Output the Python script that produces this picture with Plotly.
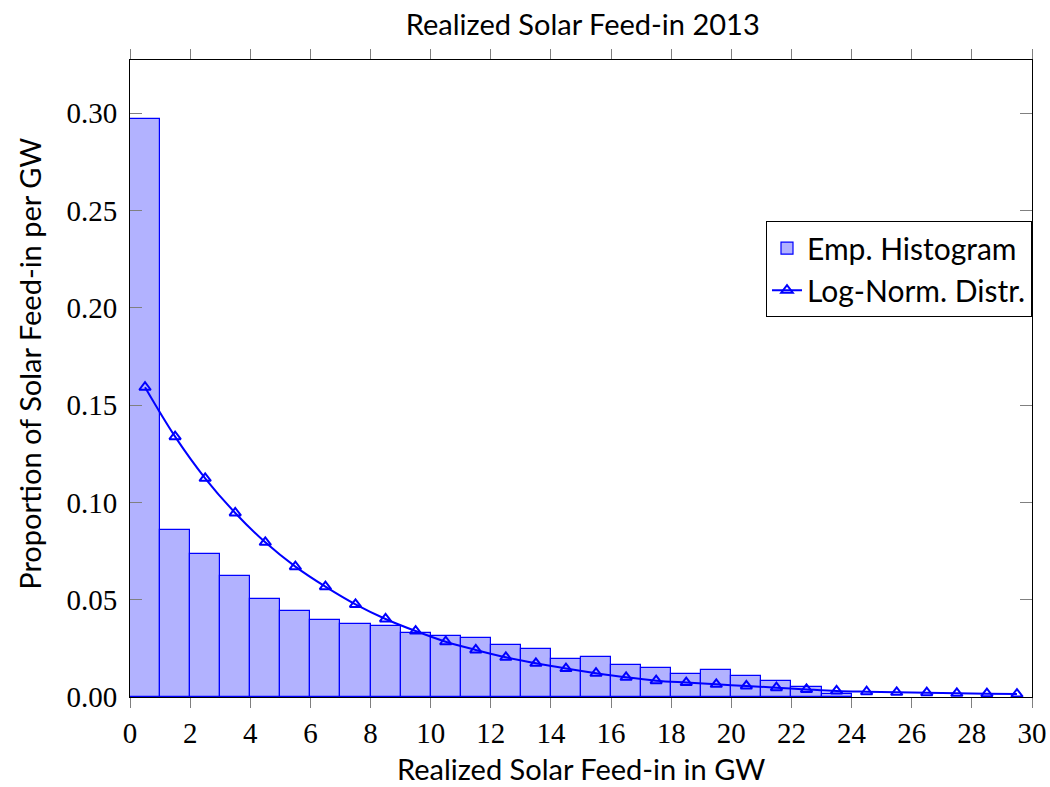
import plotly.graph_objects as go

# empirical histogram, 1 GW bins starting at 0
bin_left = list(range(0, 24))
hist_vals = [0.2972, 0.0860, 0.0737, 0.0620, 0.0502, 0.0440, 0.0397, 0.0377,
             0.0365, 0.0331, 0.0315, 0.0305, 0.0269, 0.0247, 0.0197, 0.0204,
             0.0166, 0.0149, 0.0116, 0.0137, 0.0108, 0.0084, 0.0050, 0.0015]

# log-normal density sampled at bin centres
ln_x = [i + 0.5 for i in range(30)]
ln_vals = [0.1592, 0.1338, 0.1124, 0.0946, 0.0795, 0.0670, 0.0567, 0.0476,
           0.0401, 0.0339, 0.0284, 0.0242, 0.0204, 0.0173, 0.0146, 0.0122,
           0.0101, 0.0084, 0.0074, 0.0065, 0.0057, 0.0048, 0.0039, 0.0031,
           0.0027, 0.0024, 0.0022, 0.0019, 0.0017, 0.0015]

x_ticks = list(range(0, 31, 2))
y_ticks = [0.0, 0.05, 0.10, 0.15, 0.20, 0.25, 0.30]

SANS = "Lato, 'DejaVu Sans', sans-serif"
SERIF = "'Liberation Serif', 'DejaVu Serif', serif"
TXT = dict(family=SANS, size=29, color="black")


def main():
    fig = go.Figure()
    fig.add_trace(go.Bar(
        x=[b + 0.5 for b in bin_left], y=hist_vals, width=1,
        name="Emp. Histogram",
        marker=dict(color="rgba(0,0,255,0.3)",
                    line=dict(color="#0000ff", width=1.2)),
    ))
    fig.add_trace(go.Scatter(
        x=ln_x, y=ln_vals, mode="lines+markers", name="Log-Norm. Distr.",
        line=dict(color="#0000ff", width=2, shape="spline"),
        marker=dict(symbol="triangle-up-open", size=10,
                    line=dict(color="#0000ff", width=2)),
    ))

    fig.update_layout(
        width=1050, height=787,
        paper_bgcolor="white", plot_bgcolor="white",
        margin=dict(l=130, r=18, t=60, b=90),
        bargap=0,
        title=dict(text="Realized Solar Feed-in 2013", x=0.555, xanchor="center",
                   y=0.968, yanchor="middle", font=TXT),
        legend=dict(x=1.0, xanchor="right", y=0.747, yanchor="top",
                    bgcolor="white", bordercolor="black", borderwidth=1,
                    font=dict(family=SANS, size=30, color="black"),
                    itemwidth=30, tracegroupgap=0),
        showlegend=True,
    )
    # axis titles as annotations so they sit where the reference has them
    fig.add_annotation(text="Realized Solar Feed-in in GW", xref="paper",
                       yref="paper", x=0.5, y=-0.113, xanchor="center",
                       yanchor="middle", showarrow=False, font=TXT)
    fig.add_annotation(text="Proportion of Solar Feed-in per GW", xref="paper",
                       yref="paper", x=-0.111, y=0.523, xanchor="center",
                       yanchor="middle", textangle=-90, showarrow=False,
                       font=TXT)

    fig.update_xaxes(
        range=[0, 30], tickvals=x_ticks, ticks="outside", ticklen=10,
        tickcolor="#808080", tickwidth=1, mirror="ticks", showline=True,
        linecolor="black", linewidth=1, showgrid=False, zeroline=False,
        automargin=False, ticklabeloverflow="allow",
        tickfont=dict(family=SERIF, size=29, color="black"),
    )
    fig.update_yaxes(
        range=[0, 0.3274], tickvals=y_ticks, tickformat=".2f", ticks="inside",
        ticklen=12, tickcolor="#808080", tickwidth=1, mirror="ticks",
        showline=True, linecolor="black", linewidth=1, showgrid=False,
        zeroline=False, automargin=False, ticklabelstandoff=6,
        tickfont=dict(family=SERIF, size=29, color="black"),
    )
    # drop the default 8px page margin so the figure fills the window
    fig.write_html("out.html", config={"displayModeBar": False},
                   post_script="document.body.style.margin='0';")


if __name__ == "__main__":
    main()
